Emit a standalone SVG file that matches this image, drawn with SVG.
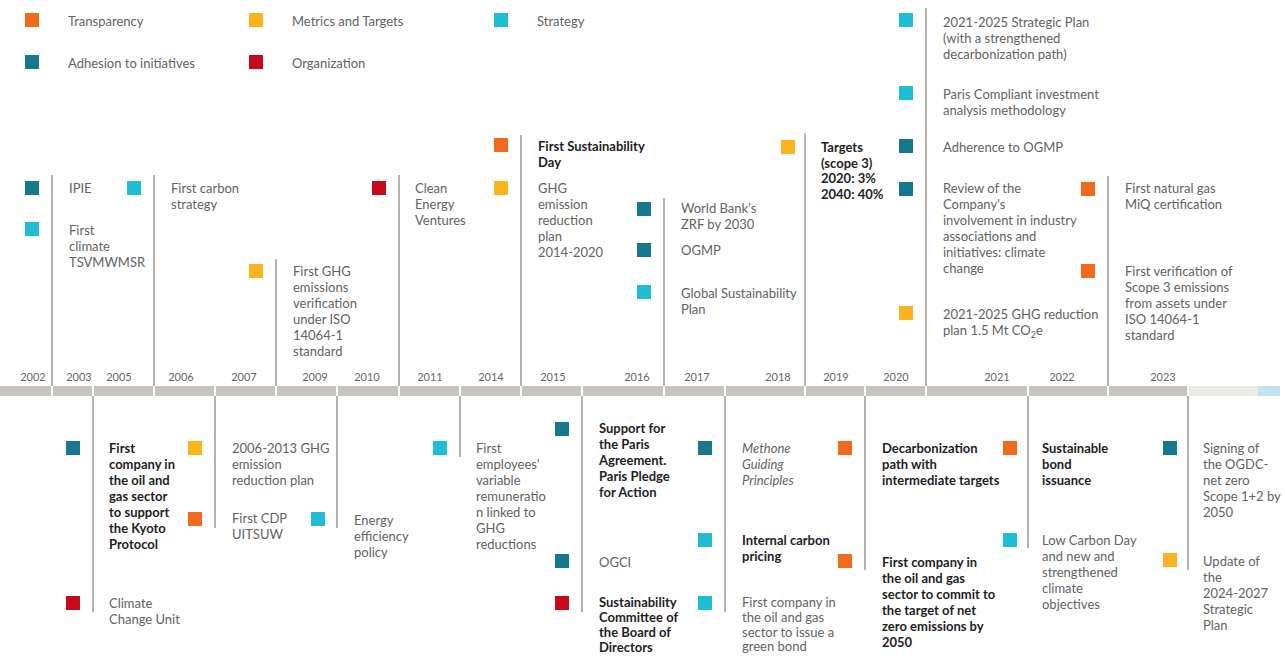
<svg xmlns="http://www.w3.org/2000/svg" width="1285" height="656" viewBox="0 0 1285 656">
<style>
text{font-family:Lato,"Open Sans","Liberation Sans",sans-serif;font-size:13px;fill:#626262}
.b{font-weight:bold;fill:#1e1e1e}
.i{font-style:italic}
.yr{font-size:11px;text-anchor:middle;fill:#666}
.tr{fill:#f26b1d}.mt{fill:#fcb31e}.st{fill:#1fbdd3}.ad{fill:#15788f}.or{fill:#c70a19}
.ln{stroke:#b9b1a9;stroke-width:2;fill:none}
.bar{fill:#c9c3bf}
</style>
<rect width="1285" height="656" fill="#fff"/>
<g id="legend">
<rect class="tr" x="25" y="13" width="14" height="14"/><text x="68" y="26">Transparency</text>
<rect class="mt" x="249" y="13" width="14" height="14"/><text x="292" y="26">Metrics and Targets</text>
<rect class="st" x="494" y="13" width="14" height="14"/><text x="537" y="26">Strategy</text>
<rect class="ad" x="25" y="55" width="14" height="14"/><text x="68" y="68">Adhesion to initiatives</text>
<rect class="or" x="249" y="55" width="14" height="14"/><text x="292" y="68">Organization</text>
</g>
<g id="timeline">
<rect class="bar" x="0" y="386" width="1188" height="10"/>
<rect x="1188" y="386" width="70" height="10" fill="#eceae6"/>
<rect x="1258" y="386" width="22" height="10" fill="#bfe3f5"/>
<g fill="#fff">
<rect x="51" y="386" width="2" height="10"/><rect x="92" y="386" width="2" height="10"/><rect x="153" y="386" width="2" height="10"/><rect x="214" y="386" width="2" height="10"/><rect x="275" y="386" width="2" height="10"/><rect x="336" y="386" width="2" height="10"/><rect x="398" y="386" width="2" height="10"/><rect x="459" y="386" width="2" height="10"/><rect x="520" y="386" width="2" height="10"/><rect x="581" y="386" width="2" height="10"/><rect x="663" y="386" width="2" height="10"/><rect x="724" y="386" width="2" height="10"/><rect x="804" y="386" width="2" height="10"/><rect x="864" y="386" width="2" height="10"/><rect x="925" y="386" width="2" height="10"/><rect x="1027" y="386" width="2" height="10"/><rect x="1107" y="386" width="2" height="10"/><rect x="1187" y="386" width="2" height="10"/>
</g>
<text class="yr" x="33" y="381">2002</text>
<text class="yr" x="79" y="381">2003</text>
<text class="yr" x="119" y="381">2005</text>
<text class="yr" x="181" y="381">2006</text>
<text class="yr" x="244" y="381">2007</text>
<text class="yr" x="315" y="381">2009</text>
<text class="yr" x="367" y="381">2010</text>
<text class="yr" x="430" y="381">2011</text>
<text class="yr" x="491" y="381">2014</text>
<text class="yr" x="553" y="381">2015</text>
<text class="yr" x="637" y="381">2016</text>
<text class="yr" x="697" y="381">2017</text>
<text class="yr" x="778" y="381">2018</text>
<text class="yr" x="836" y="381">2019</text>
<text class="yr" x="896" y="381">2020</text>
<text class="yr" x="997" y="381">2021</text>
<text class="yr" x="1062" y="381">2022</text>
<text class="yr" x="1163" y="381">2023</text>
</g>
<g id="connectors">
<line class="ln" x1="52" y1="175" x2="52" y2="386"/>
<line class="ln" x1="154" y1="175" x2="154" y2="386"/>
<line class="ln" x1="276" y1="259" x2="276" y2="386"/>
<line class="ln" x1="399" y1="175" x2="399" y2="386"/>
<line class="ln" x1="521" y1="135" x2="521" y2="386"/>
<line class="ln" x1="664" y1="198" x2="664" y2="386"/>
<line class="ln" x1="805" y1="133" x2="805" y2="386"/>
<line class="ln" x1="926" y1="8" x2="926" y2="386"/>
<line class="ln" x1="1108" y1="176" x2="1108" y2="386"/>
<line class="ln" x1="93" y1="396" x2="93" y2="612"/>
<line class="ln" x1="215" y1="396" x2="215" y2="528"/>
<line class="ln" x1="337" y1="396" x2="337" y2="528"/>
<line class="ln" x1="460" y1="396" x2="460" y2="457"/>
<line class="ln" x1="582" y1="396" x2="582" y2="612"/>
<line class="ln" x1="725" y1="396" x2="725" y2="612"/>
<line class="ln" x1="865" y1="396" x2="865" y2="570"/>
<line class="ln" x1="1028" y1="396" x2="1028" y2="548"/>
<line class="ln" x1="1188" y1="396" x2="1188" y2="570"/>
</g>
<g id="n-ipie"><rect class="ad" x="25" y="181" width="14" height="14"/><text x="69" y="193">IPIE</text></g>
<g id="n-first-climate"><rect class="st" x="25" y="222" width="14" height="14"/><text x="69" y="235"><tspan x="69">First</tspan><tspan x="69" dy="16">climate</tspan><tspan x="69" dy="16">TSVMWMSR</tspan></text></g>
<g id="n-carbon-strategy"><rect class="st" x="127" y="181" width="14" height="14"/><text x="171" y="193"><tspan x="171">First carbon</tspan><tspan x="171" dy="16">strategy</tspan></text></g>
<g id="n-ghg-verification"><rect class="mt" x="249" y="264" width="14" height="14"/><text x="293" y="276"><tspan x="293">First GHG</tspan><tspan x="293" dy="16">emissions</tspan><tspan x="293" dy="16">verification</tspan><tspan x="293" dy="16">under ISO</tspan><tspan x="293" dy="16">14064-1</tspan><tspan x="293" dy="16">standard</tspan></text></g>
<g id="n-clean-energy"><rect class="or" x="372" y="181" width="14" height="14"/><text x="415" y="193"><tspan x="415">Clean</tspan><tspan x="415" dy="16">Energy</tspan><tspan x="415" dy="16">Ventures</tspan></text></g>
<g id="n-sust-day"><rect class="tr" x="494" y="138" width="14" height="14"/><text class="b" x="538" y="151"><tspan x="538">First Sustainability</tspan><tspan x="538" dy="16">Day</tspan></text></g>
<g id="n-ghg-plan-2014"><rect class="mt" x="494" y="181" width="14" height="14"/><text x="538" y="193"><tspan x="538">GHG</tspan><tspan x="538" dy="16">emission</tspan><tspan x="538" dy="16">reduction</tspan><tspan x="538" dy="16">plan</tspan><tspan x="538" dy="16">2014-2020</tspan></text></g>
<g id="n-world-bank"><rect class="ad" x="637" y="202" width="14" height="14"/><text x="681" y="213"><tspan x="681">World Bank's</tspan><tspan x="681" dy="16">ZRF by 2030</tspan></text></g>
<g id="n-ogmp"><rect class="ad" x="637" y="243" width="14" height="14"/><text x="681" y="255">OGMP</text></g>
<g id="n-gsp"><rect class="st" x="637" y="285" width="14" height="14"/><text x="681" y="298"><tspan x="681">Global Sustainability</tspan><tspan x="681" dy="16">Plan</tspan></text></g>
<g id="n-targets"><rect class="mt" x="781" y="140" width="14" height="14"/><text class="b" x="821" y="152"><tspan x="821">Targets</tspan><tspan x="821" dy="16">(scope 3)</tspan><tspan x="821" dy="15">2020: 3%</tspan><tspan x="821" dy="16">2040: 40%</tspan></text></g>
<g id="n-strategic-plan"><rect class="st" x="899" y="13" width="14" height="14"/><text x="943" y="27"><tspan x="943">2021-2025 Strategic Plan</tspan><tspan x="943" dy="16">(with a strengthened</tspan><tspan x="943" dy="16">decarbonization path)</tspan></text></g>
<g id="n-paris-compliant"><rect class="st" x="899" y="86" width="14" height="14"/><text x="943" y="99"><tspan x="943">Paris Compliant investment</tspan><tspan x="943" dy="16">analysis methodology</tspan></text></g>
<g id="n-adherence-ogmp"><rect class="ad" x="899" y="139" width="14" height="14"/><text x="943" y="152">Adherence to OGMP</text></g>
<g id="n-review"><rect class="ad" x="899" y="182" width="14" height="14"/><text x="943" y="193"><tspan x="943">Review of the</tspan><tspan x="943" dy="16">Company's</tspan><tspan x="943" dy="16">involvement in industry</tspan><tspan x="943" dy="16">associations and</tspan><tspan x="943" dy="16">initiatives: climate</tspan><tspan x="943" dy="16">change</tspan></text></g>
<g id="n-ghg-2021"><rect class="mt" x="899" y="306" width="14" height="14"/><text x="943" y="319"><tspan x="943">2021-2025 GHG reduction</tspan><tspan x="943" dy="16">plan 1.5 Mt CO</tspan><tspan font-size="9" dy="3">2</tspan><tspan dy="-3">e</tspan></text></g>
<g id="n-miq"><rect class="tr" x="1081" y="182" width="14" height="14"/><text x="1125" y="193"><tspan x="1125">First natural gas</tspan><tspan x="1125" dy="16">MiQ certification</tspan></text></g>
<g id="n-scope3"><rect class="tr" x="1081" y="264" width="14" height="14"/><text x="1125" y="276"><tspan x="1125">First verification of</tspan><tspan x="1125" dy="16">Scope 3 emissions</tspan><tspan x="1125" dy="16">from assets under</tspan><tspan x="1125" dy="16">ISO 14064-1</tspan><tspan x="1125" dy="16">standard</tspan></text></g>
<g id="n-kyoto"><rect class="ad" x="66" y="441" width="14" height="14"/><text class="b" x="109" y="453"><tspan x="109">First</tspan><tspan x="109" dy="16">company in</tspan><tspan x="109" dy="16">the oil and</tspan><tspan x="109" dy="16">gas sector</tspan><tspan x="109" dy="16">to support</tspan><tspan x="109" dy="16">the Kyoto</tspan><tspan x="109" dy="16">Protocol</tspan></text></g>
<g id="n-ccu"><rect class="or" x="66" y="596" width="14" height="14"/><text x="109" y="608"><tspan x="109">Climate</tspan><tspan x="109" dy="16">Change Unit</tspan></text></g>
<g id="n-ghg-2006"><rect class="mt" x="188" y="441" width="14" height="14"/><text x="232" y="453"><tspan x="232">2006-2013 GHG</tspan><tspan x="232" dy="16">emission</tspan><tspan x="232" dy="16">reduction plan</tspan></text></g>
<g id="n-cdp"><rect class="tr" x="188" y="512" width="14" height="14"/><text x="232" y="523"><tspan x="232">First CDP</tspan><tspan x="232" dy="16">UITSUW</tspan></text></g>
<g id="n-energy"><rect class="st" x="311" y="512" width="14" height="14"/><text x="354" y="525"><tspan x="354">Energy</tspan><tspan x="354" dy="16">efficiency</tspan><tspan x="354" dy="16">policy</tspan></text></g>
<g id="n-remuneration"><rect class="st" x="433" y="441" width="14" height="14"/><text x="476" y="453"><tspan x="476">First</tspan><tspan x="476" dy="16">employees'</tspan><tspan x="476" dy="16">variable</tspan><tspan x="476" dy="16">remuneratio</tspan><tspan x="476" dy="16">n linked to</tspan><tspan x="476" dy="16">GHG</tspan><tspan x="476" dy="16">reductions</tspan></text></g>
<g id="n-paris"><rect class="ad" x="555" y="422" width="14" height="14"/><text class="b" x="599" y="433"><tspan x="599">Support for</tspan><tspan x="599" dy="16">the Paris</tspan><tspan x="599" dy="16">Agreement.</tspan><tspan x="599" dy="16">Paris Pledge</tspan><tspan x="599" dy="16">for Action</tspan></text></g>
<g id="n-ogci"><rect class="ad" x="555" y="554" width="14" height="14"/><text x="599" y="567">OGCI</text></g>
<g id="n-committee"><rect class="or" x="555" y="596" width="14" height="14"/><text class="b" x="599" y="607"><tspan x="599">Sustainability</tspan><tspan x="599" dy="15">Committee of</tspan><tspan x="599" dy="15">the Board of</tspan><tspan x="599" dy="15">Directors</tspan></text></g>
<g id="n-methone"><rect class="ad" x="698" y="441" width="14" height="14"/><text class="i" x="742" y="453"><tspan x="742">Methone</tspan><tspan x="742" dy="16">Guiding</tspan><tspan x="742" dy="16">Principles</tspan></text></g>
<g id="n-carbon-pricing"><rect class="st" x="698" y="533" width="14" height="14"/><text class="b" x="742" y="545"><tspan x="742">Internal carbon</tspan><tspan x="742" dy="16">pricing</tspan></text></g>
<g id="n-green-bond"><rect class="st" x="698" y="596" width="14" height="14"/><text x="742" y="607"><tspan x="742">First company in</tspan><tspan x="742" dy="15">the oil and gas</tspan><tspan x="742" dy="15">sector to issue a</tspan><tspan x="742" dy="14">green bond</tspan></text></g>
<g id="n-decarb"><rect class="tr" x="838" y="441" width="14" height="14"/><text class="b" x="882" y="453"><tspan x="882">Decarbonization</tspan><tspan x="882" dy="16">path with</tspan><tspan x="882" dy="16">intermediate targets</tspan></text></g>
<g id="n-net-zero"><rect class="tr" x="838" y="554" width="14" height="14"/><text class="b" x="882" y="567"><tspan x="882">First company in</tspan><tspan x="882" dy="16">the oil and gas</tspan><tspan x="882" dy="16">sector to commit to</tspan><tspan x="882" dy="16">the target of net</tspan><tspan x="882" dy="16">zero emissions by</tspan><tspan x="882" dy="16">2050</tspan></text></g>
<g id="n-bond"><rect class="tr" x="1003" y="441" width="14" height="14"/><text class="b" x="1042" y="453"><tspan x="1042">Sustainable</tspan><tspan x="1042" dy="16">bond</tspan><tspan x="1042" dy="16">issuance</tspan></text></g>
<g id="n-low-carbon"><rect class="st" x="1003" y="533" width="14" height="14"/><text x="1042" y="545"><tspan x="1042">Low Carbon Day</tspan><tspan x="1042" dy="16">and new and</tspan><tspan x="1042" dy="16">strengthened</tspan><tspan x="1042" dy="16">climate</tspan><tspan x="1042" dy="16">objectives</tspan></text></g>
<g id="n-ogdc"><rect class="ad" x="1163" y="441" width="14" height="14"/><text x="1203" y="453"><tspan x="1203">Signing of</tspan><tspan x="1203" dy="16">the OGDC-</tspan><tspan x="1203" dy="16">net zero</tspan><tspan x="1203" dy="16">Scope 1+2 by</tspan><tspan x="1203" dy="16">2050</tspan></text></g>
<g id="n-update"><rect class="mt" x="1163" y="553" width="14" height="14"/><text x="1203" y="566"><tspan x="1203">Update of</tspan><tspan x="1203" dy="16">the</tspan><tspan x="1203" dy="16">2024-2027</tspan><tspan x="1203" dy="16">Strategic</tspan><tspan x="1203" dy="16">Plan</tspan></text></g>
</svg>
